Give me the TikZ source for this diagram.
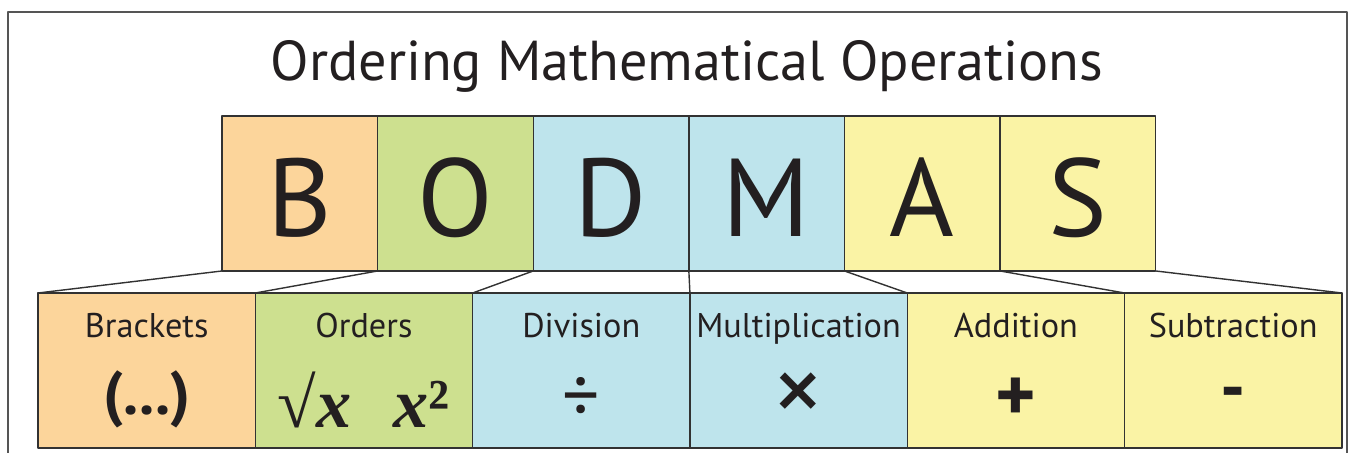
\documentclass[tikz,border=0pt]{standalone}
\usepackage{fontspec}
\setmainfont{PT Sans}
\newfontfamily\mathsignfont{Liberation Serif}
\usetikzlibrary{positioning}

\definecolor{brkorange}{RGB}{252,213,155}
\definecolor{ordgreen}{RGB}{205,224,143}
\definecolor{divblue}{RGB}{190,228,236}
\definecolor{addyellow}{RGB}{250,243,165}
\definecolor{edgegrey}{RGB}{50,50,50}
\definecolor{framegrey}{RGB}{85,85,85}
\definecolor{inkblack}{RGB}{35,31,32}

\begin{document}
\begin{tikzpicture}[x=0.02cm,y=-0.02cm,line cap=round,line join=round,
  letterbox/.style={draw=edgegrey,line width=0.8pt,minimum width=3.113cm,minimum height=3.1cm,inner sep=0pt,outer sep=0pt},
  wordbox/.style={draw=edgegrey,line width=0.8pt,minimum width=4.347cm,minimum height=3.1cm,inner sep=0pt,outer sep=0pt},
  letter/.style={text=inkblack,font=\fontsize{63}{63}\selectfont,anchor=base,inner sep=0pt},
  word/.style={text=inkblack,font=\fontsize{19.5}{20}\selectfont,anchor=base,inner sep=0pt},
  sign/.style={text=inkblack,font=\fontsize{42}{42}\selectfont,inner sep=0pt},
  fold/.style={draw=edgegrey,line width=0.8pt}]
  \useasboundingbox (0,0) rectangle (1350,453);
  \draw[framegrey,line width=1pt] (8,460) -- (8,12) -- (1347,12) -- (1347,460);
  \node[text=inkblack,font=\fontsize{32}{33}\selectfont,anchor=base,inner sep=0pt] (title) at (687,80)
    {Ordering Mathematical Operations};
  % letters
  \node[letterbox,fill=brkorange,anchor=north west] (B) at (222,116) {};
  \node[letterbox,fill=ordgreen,right=0pt of B] (O) {};
  \node[letterbox,fill=divblue,right=0pt of O] (D) {};
  \node[letterbox,fill=divblue,right=0pt of D] (M) {};
  \node[letterbox,fill=addyellow,right=0pt of M] (A) {};
  \node[letterbox,fill=addyellow,right=0pt of A] (S) {};
  \foreach \n in {B,O,D,M,A,S}
    \node[letter] (t\n) at ([yshift=-24.6pt]\n.center) {\n};
  % words
  \node[wordbox,fill=brkorange,anchor=north west] (wB) at (38,293) {};
  \node[wordbox,fill=ordgreen,right=0pt of wB] (wO) {};
  \node[wordbox,fill=divblue,right=0pt of wO] (wD) {};
  \node[wordbox,fill=divblue,right=0pt of wD] (wM) {};
  \node[wordbox,fill=addyellow,right=0pt of wM] (wA) {};
  \node[wordbox,fill=addyellow,right=0pt of wA] (wS) {};
  \foreach \n/\txt in {B/Brackets,O/Orders,D/Division,M/Multiplication,A/Addition,S/Subtraction}
    \node[word] (l\n) at ([yshift=19pt]w\n.center) {\txt};
  \node[sign,font=\fontsize{35}{35}\selectfont\bfseries] (sB) at ([yshift=-16.5pt]wB.center) {(...)};
  \node[sign,font=\fontsize{40}{40}\selectfont\mathsignfont\bfseries] (sO) at ([yshift=-16.5pt]wO.center)
    {√\textit{x}\hspace{0.6em}\textit{x}²};
  \node[sign] (sD) at ([yshift=-16.5pt]wD.center) {÷};
  \node[sign,font=\fontsize{58}{58}\selectfont] (sM) at ([yshift=-16.5pt]wM.center) {×};
  \node[sign,font=\fontsize{44}{44}\selectfont\bfseries] (sA) at ([yshift=-16.5pt]wA.center) {+};
  \node[sign,font=\fontsize{40}{40}\selectfont\bfseries] (sS) at ([yshift=-16.5pt]wS.center) {-};
  % folds
  \foreach \n in {B,O,D,M,A,S}
    \draw[fold] (\n.south west) -- (w\n.north west);
  \draw[fold] (S.south east) -- (wS.north east);
\end{tikzpicture}
\end{document}
